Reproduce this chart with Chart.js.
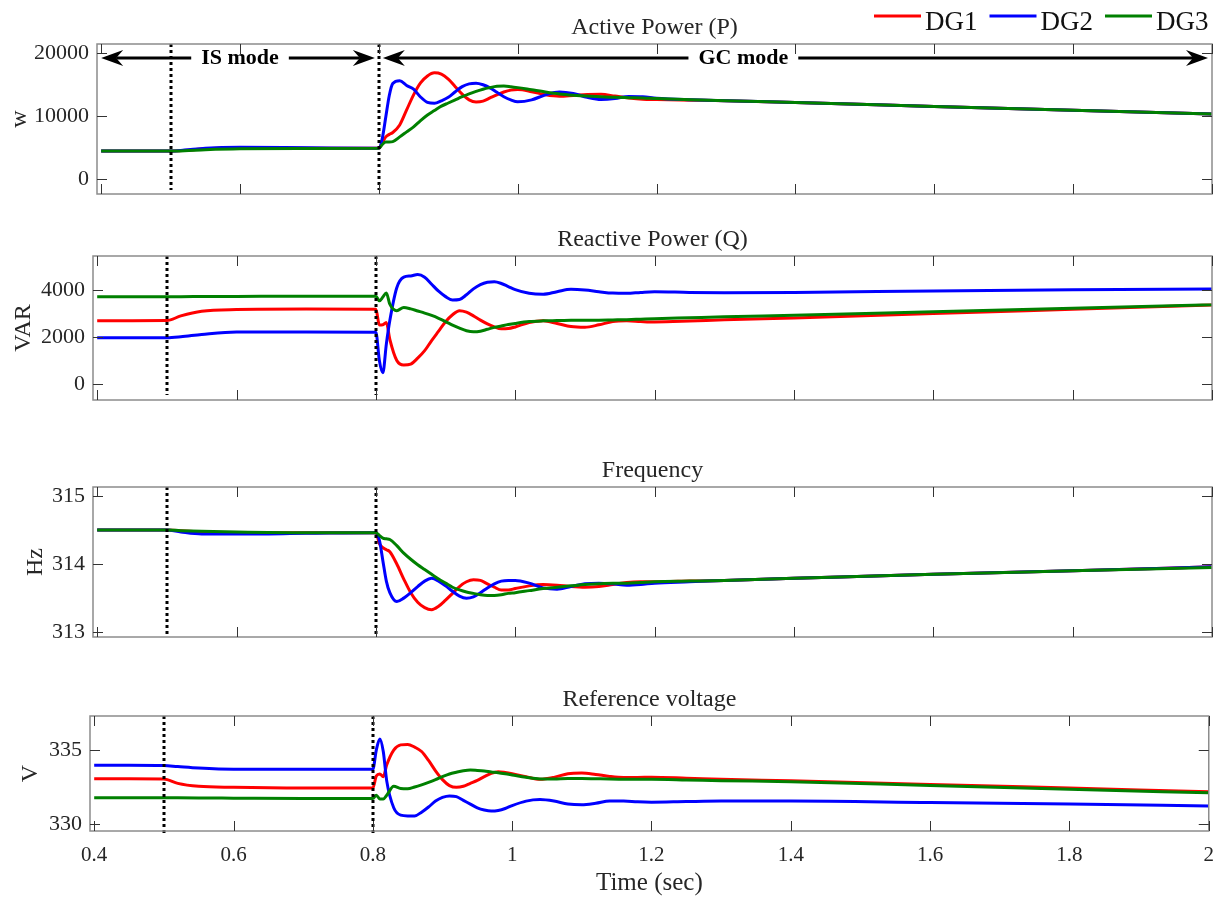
<!DOCTYPE html>
<html>
<head>
<meta charset="utf-8">
<title>DG power sharing – IS to GC transition</title>
<script src="https://cdn.jsdelivr.net/npm/chart.js@4/dist/chart.umd.min.js"></script>
<style>
  html, body { margin: 0; padding: 0; background: #fff; }
  #wrap { position: relative; width: 1226px; height: 898px; }
  #wrap canvas { position: absolute; left: 0; }
</style>
</head>
<body>
<div id="wrap">
  <canvas id="pChart" width="1226" height="216" style="top:0"></canvas>
  <canvas id="qChart" width="1226" height="215" style="top:215px"></canvas>
  <canvas id="fChart" width="1226" height="229" style="top:430px"></canvas>
  <canvas id="vChart" width="1226" height="253" style="top:645px"></canvas>
</div>
<script>
// sample times (s), denser around the grid connection at 0.8 s
const time = [0.4, 0.45, 0.5, 0.52, 0.55, 0.6, 0.7, 0.8,
  0.805, 0.81, 0.815, 0.82,
  0.83, 0.84, 0.85, 0.86, 0.87, 0.88, 0.89, 0.9, 0.91, 0.92, 0.93, 0.94, 0.95, 0.96, 0.97, 0.98, 0.99, 1.0,
  1.02, 1.04, 1.06, 1.08, 1.1, 1.12, 1.14, 1.16, 1.18, 1.2,
  1.25, 1.3, 1.4, 1.6, 1.8, 2.0];
const timeTicks = [0.4, 0.6, 0.8, 1, 1.2, 1.4, 1.6, 1.8, 2];
const switchTimes = [0.5, 0.8];
const seriesNames = ['DG1', 'DG2', 'DG3'];
const seriesColors = ['#ff0000', '#0000ff', '#008000'];

// active power (W)
const pDG1 = [4450, 4450, 4450, 4550, 4800, 4950, 4900, 4870,
  5800, 6700, 7100, 7400,
  8600, 11000, 13400, 15300, 16400, 16900, 16700, 15900, 14700, 13500, 12600, 12270, 12400, 12900, 13400, 13850, 14150, 14240,
  13900, 13400, 13170, 13300, 13450, 13490, 13200, 12900, 12700, 12650,
  12550, 12450, 12170, 11550, 10950, 10350];
const pDG2 = [4450, 4450, 4450, 4600, 4900, 5050, 4950, 4870,
  6500, 9900, 13300, 15200,
  15650, 14900, 14300, 13060, 12200, 12050, 12450, 13000, 13900, 14700, 15150, 15250, 15000, 14500, 13800, 13100, 12600, 12300,
  12600, 13400, 13850, 13600, 13000, 12650, 12800, 13150, 13100, 12850,
  12600, 12450, 12170, 11550, 10950, 10350];
const pDG3 = [4450, 4450, 4450, 4500, 4650, 4800, 4850, 4870,
  5500, 5900, 5900, 5950,
  6700, 7500, 8300, 9300, 10200, 10900, 11600, 12100, 12600, 13100, 13550, 13950, 14300, 14550, 14750, 14810, 14700, 14550,
  14200, 13850, 13550, 13350, 13200, 13100, 13000, 12950, 12900, 12800,
  12600, 12450, 12170, 11550, 10950, 10350];

// reactive power (VAR)
const qDG1 = [2695, 2695, 2700, 2900, 3100, 3170, 3190, 3180,
  2510, 2520, 2620, 1900,
  1000, 810, 850, 1100, 1420, 1850, 2250, 2650, 2950, 3120, 3060, 2900, 2720, 2560, 2430, 2350, 2360, 2430,
  2620, 2690, 2580, 2450, 2420, 2520, 2660, 2690, 2660, 2640,
  2680, 2740, 2810, 3000, 3180, 3360];
const qDG2 = [1970, 1970, 1970, 2010, 2110, 2220, 2210, 2200,
  1000, 480, 1700, 2700,
  4100, 4550, 4600, 4660, 4550, 4250, 3950, 3720, 3580, 3600, 3800, 4050, 4230, 4330, 4350, 4280, 4150, 4020,
  3860, 3820, 3930, 4030, 4000, 3930, 3870, 3860, 3900, 3930,
  3900, 3890, 3900, 3960, 4010, 4050];
const qDG3 = [3715, 3715, 3720, 3720, 3725, 3730, 3740, 3740,
  3540, 3700, 3880, 3400,
  3120, 3260, 3200, 3110, 3020, 2920, 2800, 2660, 2510, 2380, 2270, 2225, 2250, 2330, 2410, 2470, 2530, 2580,
  2660, 2690, 2700, 2710, 2720, 2720, 2730, 2740, 2760, 2780,
  2820, 2860, 2930, 3080, 3230, 3380];

// frequency (rad/s)
const fDG1 = [314.5, 314.5, 314.5, 314.49, 314.47, 314.46, 314.46, 314.46,
  314.3, 314.24, 314.21, 314.18,
  314.0, 313.78, 313.58, 313.44, 313.36, 313.33, 313.38, 313.47, 313.57, 313.67, 313.74, 313.77, 313.76, 313.71, 313.66, 313.62, 313.62, 313.64,
  313.68, 313.7, 313.69, 313.67, 313.66, 313.67, 313.7, 313.73, 313.74, 313.74,
  313.75, 313.76, 313.79, 313.85, 313.9, 313.96];
const fDG2 = [314.5, 314.5, 314.5, 314.47, 314.44, 314.44, 314.45, 314.46,
  314.35, 314.05, 313.75, 313.58,
  313.45, 313.5, 313.58, 313.67, 313.75, 313.79, 313.75, 313.68, 313.6, 313.53, 313.5, 313.52, 313.58, 313.65, 313.71, 313.75, 313.76, 313.76,
  313.72, 313.65, 313.63, 313.67, 313.71, 313.72, 313.71, 313.69, 313.7, 313.72,
  313.74, 313.76, 313.79, 313.85, 313.9, 313.96];
const fDG3 = [314.5, 314.5, 314.5, 314.49, 314.48, 314.47, 314.46, 314.46,
  314.42, 314.38, 314.37, 314.36,
  314.27, 314.16, 314.07, 313.99, 313.92, 313.85, 313.78, 313.72, 313.66, 313.62, 313.59, 313.57, 313.55, 313.54, 313.54, 313.55, 313.57, 313.58,
  313.61, 313.64, 313.66, 313.68, 313.7, 313.71, 313.72, 313.72, 313.73, 313.74,
  313.75, 313.76, 313.79, 313.85, 313.9, 313.95];

// reference voltage (V)
const vDG1 = [333.06, 333.06, 333.05, 332.75, 332.55, 332.48, 332.43, 332.43,
  333.24, 333.38, 333.2, 334.0,
  335.0, 335.35, 335.38, 335.2, 334.9, 334.3, 333.6, 333.0, 332.6, 332.48, 332.55, 332.75, 332.95, 333.2, 333.42, 333.53, 333.48, 333.4,
  333.2, 333.02, 333.15, 333.4, 333.45, 333.35, 333.22, 333.15, 333.15, 333.16,
  333.1, 333.03, 332.92, 332.68, 332.43, 332.18];
const vDG2 = [333.97, 333.97, 333.95, 333.88, 333.78, 333.7, 333.7, 333.7,
  335.0, 335.75, 334.9, 332.9,
  331.1, 330.6, 330.55, 330.55, 330.8, 331.15, 331.55, 331.8, 331.9, 331.85, 331.6, 331.35, 331.1, 330.95, 330.88, 330.92, 331.05, 331.25,
  331.55, 331.65, 331.55, 331.35, 331.3, 331.4, 331.55, 331.55, 331.5, 331.48,
  331.52, 331.55, 331.55, 331.45, 331.35, 331.22];
const vDG3 = [331.78, 331.78, 331.78, 331.77, 331.76, 331.75, 331.73, 331.72,
  331.95, 331.7, 331.7, 331.95,
  332.55, 332.4, 332.38, 332.5, 332.65, 332.82, 333.0, 333.2, 333.38, 333.5, 333.6, 333.65, 333.62, 333.58, 333.52, 333.47, 333.4, 333.32,
  333.16, 333.05, 333.05, 333.08, 333.08, 333.06, 333.04, 333.03, 333.02, 333.02,
  332.98, 332.93, 332.86, 332.6, 332.35, 332.11];

const pTicks = [0, 10000, 20000];
const qTicks = [0, 2000, 4000];
const fTicks = [313, 314, 315];
const vTicks = [330, 335];

// operating mode annotations on the active power panel
const modeLabels = ['IS mode', 'GC mode'];
const modeSpans = [[0.4, 0.8], [0.8, 2]];
const modeLabelAt = [0.6, 1.325];
const modeArrowLevel = 19200;

const serif = '"Liberation Serif", "Times New Roman", serif';
const ink = '#262626';

function arrowHead(ctx, tipX, y, dir) {
  // dir = -1 points left, +1 points right
  ctx.beginPath();
  ctx.moveTo(tipX, y);
  ctx.lineTo(tipX - dir * 22, y - 8);
  ctx.lineTo(tipX - dir * 15, y);
  ctx.lineTo(tipX - dir * 22, y + 8);
  ctx.closePath();
  ctx.fill();
}

// box, inward ticks, mode switch lines, panel title (+ mode arrows)
const panelFrame = {
  id: 'panelFrame',
  afterDatasetsDraw(chart, args, opts) {
    const { ctx, chartArea: a, scales: { x, y } } = chart;
    ctx.save();

    ctx.strokeStyle = '#000';
    ctx.lineWidth = 3;
    ctx.setLineDash([3, 3]);
    switchTimes.forEach(t => {
      const px = Math.round(x.getPixelForValue(t));
      ctx.beginPath();
      ctx.moveTo(px, a.top);
      ctx.lineTo(px, a.bottom + opts.dashOverhang);
      ctx.stroke();
    });
    ctx.setLineDash([]);

    ctx.strokeStyle = '#8c8c8c';
    ctx.lineWidth = 1.5;
    ctx.strokeRect(a.left, a.top, a.right - a.left, a.bottom - a.top);

    ctx.strokeStyle = '#333';
    ctx.lineWidth = 1;
    const len = 10;
    x.ticks.forEach(tk => {
      const px = Math.round(x.getPixelForValue(tk.value)) + 0.5;
      ctx.beginPath();
      ctx.moveTo(px, a.bottom); ctx.lineTo(px, a.bottom - len);
      ctx.moveTo(px, a.top); ctx.lineTo(px, a.top + len);
      ctx.stroke();
    });
    y.ticks.forEach(tk => {
      const py = Math.round(y.getPixelForValue(tk.value)) + 0.5;
      ctx.beginPath();
      ctx.moveTo(a.left, py); ctx.lineTo(a.left + len, py);
      ctx.moveTo(a.right, py); ctx.lineTo(a.right - len, py);
      ctx.stroke();
    });

    ctx.fillStyle = ink;
    ctx.font = '24px ' + serif;
    ctx.textAlign = 'center';
    ctx.textBaseline = 'middle';
    ctx.fillText(opts.title, (a.left + a.right) / 2, a.top - 16);

    if (opts.arrows) {
      const ay = Math.round(y.getPixelForValue(modeArrowLevel));
      ctx.fillStyle = '#000';
      ctx.strokeStyle = '#000';
      ctx.lineWidth = 3;
      ctx.font = 'bold 22px ' + serif;
      modeLabels.forEach((label, i) => {
        const [from, to] = modeSpans[i];
        const x0 = x.getPixelForValue(from) + (i === 0 ? 0 : 4);
        const x1 = x.getPixelForValue(to) - 4;
        const xc = x.getPixelForValue(modeLabelAt[i]);
        const half = ctx.measureText(label).width / 2 + 10;
        ctx.beginPath();
        ctx.moveTo(x0 + 15, ay); ctx.lineTo(xc - half, ay);
        ctx.moveTo(xc + half, ay); ctx.lineTo(x1 - 15, ay);
        ctx.stroke();
        arrowHead(ctx, x0, ay, -1);
        arrowHead(ctx, x1, ay, 1);
        ctx.fillText(label, xc, ay);
      });
    }
    ctx.restore();
  }
};

// series key in the top right corner
const dgLegend = {
  id: 'dgLegend',
  afterDraw(chart) {
    const { ctx } = chart;
    ctx.save();
    ctx.font = '27px ' + serif;
    ctx.textAlign = 'left';
    ctx.textBaseline = 'alphabetic';
    let xPos = 874;
    chart.data.datasets.forEach(ds => {
      ctx.strokeStyle = ds.borderColor;
      ctx.lineWidth = 3;
      ctx.beginPath();
      ctx.moveTo(xPos, 16); ctx.lineTo(xPos + 47, 16);
      ctx.stroke();
      ctx.fillStyle = '#111';
      ctx.fillText(ds.label, xPos + 51, 30);
      xPos += 51 + ctx.measureText(ds.label).width + 12;
    });
    ctx.restore();
  }
};

function makePanel(canvasId, cfg) {
  const datasets = cfg.series.map((vals, i) => ({
    label: seriesNames[i],
    data: time.map((t, k) => ({ x: t, y: vals[k] })),
    borderColor: seriesColors[i],
    backgroundColor: seriesColors[i],
    borderWidth: 3,
    pointRadius: 0,
    cubicInterpolationMode: 'monotone',
    order: 3 - i
  }));
  return new Chart(document.getElementById(canvasId), {
    type: 'line',
    data: { datasets },
    options: {
      responsive: false,
      animation: false,
      devicePixelRatio: 1,
      layout: { padding: { left: 0, right: 14, top: cfg.top, bottom: cfg.bottom } },
      plugins: {
        legend: { display: false },
        tooltip: { enabled: false },
        panelFrame: { title: cfg.title, arrows: !!cfg.arrows, dashOverhang: cfg.dashOverhang }
      },
      scales: {
        x: {
          type: 'linear',
          min: 0.394,
          max: 2,
          afterBuildTicks: s => { s.ticks = timeTicks.map(v => ({ value: v })); },
          afterFit: s => { s.height = cfg.xHeight; },
          grid: { display: false, drawTicks: false },
          border: { display: false },
          ticks: {
            display: !!cfg.showTime,
            maxRotation: 0,
            autoSkip: false,
            padding: 12,
            color: ink,
            font: { family: serif, size: 21 },
            callback: v => String(v)
          },
          title: {
            display: !!cfg.showTime,
            text: 'Time (sec)',
            color: ink,
            font: { family: serif, size: 25 },
            padding: { top: 0, bottom: 0 }
          }
        },
        y: {
          min: cfg.yMin,
          max: cfg.yMax,
          afterBuildTicks: s => { s.ticks = cfg.yTicks.map(v => ({ value: v })); },
          afterFit: s => { s.width = cfg.left; },
          grid: { display: false, drawTicks: false },
          border: { display: false },
          ticks: { padding: 8, color: ink, font: { family: serif, size: 22 }, callback: v => String(v) },
          title: {
            display: true,
            text: cfg.unit,
            color: ink,
            font: { family: serif, size: 24 },
            padding: { top: cfg.unitPad, bottom: 0 }
          }
        }
      }
    },
    plugins: cfg.legend ? [panelFrame, dgLegend] : [panelFrame]
  });
}

makePanel('pChart', {
  series: [pDG1, pDG2, pDG3], title: 'Active Power (P)', unit: 'w', unitPad: 5,
  yMin: -2400, yMax: 21500, yTicks: pTicks,
  top: 44, bottom: 22, left: 97, xHeight: 0, dashOverhang: -4,
  arrows: true, legend: true
});
makePanel('qChart', {
  series: [qDG1, qDG2, qDG3], title: 'Reactive Power (Q)', unit: 'VAR', unitPad: 9,
  yMin: -680, yMax: 5450, yTicks: qTicks,
  top: 41, bottom: 30, left: 93, xHeight: 0, dashOverhang: -5
});
makePanel('fChart', {
  series: [fDG1, fDG2, fDG3], title: 'Frequency', unit: 'Hz', unitPad: 21,
  yMin: 312.93, yMax: 315.13, yTicks: fTicks,
  top: 57, bottom: 22, left: 93, xHeight: 0, dashOverhang: 0
});
makePanel('vChart', {
  series: [vDG1, vDG2, vDG3], title: 'Reference voltage', unit: 'V', unitPad: 16,
  yMin: 329.53, yMax: 337.3, yTicks: vTicks,
  top: 71, bottom: 0, left: 90, xHeight: 67, dashOverhang: 5,
  showTime: true
});
</script>
</body>
</html>
